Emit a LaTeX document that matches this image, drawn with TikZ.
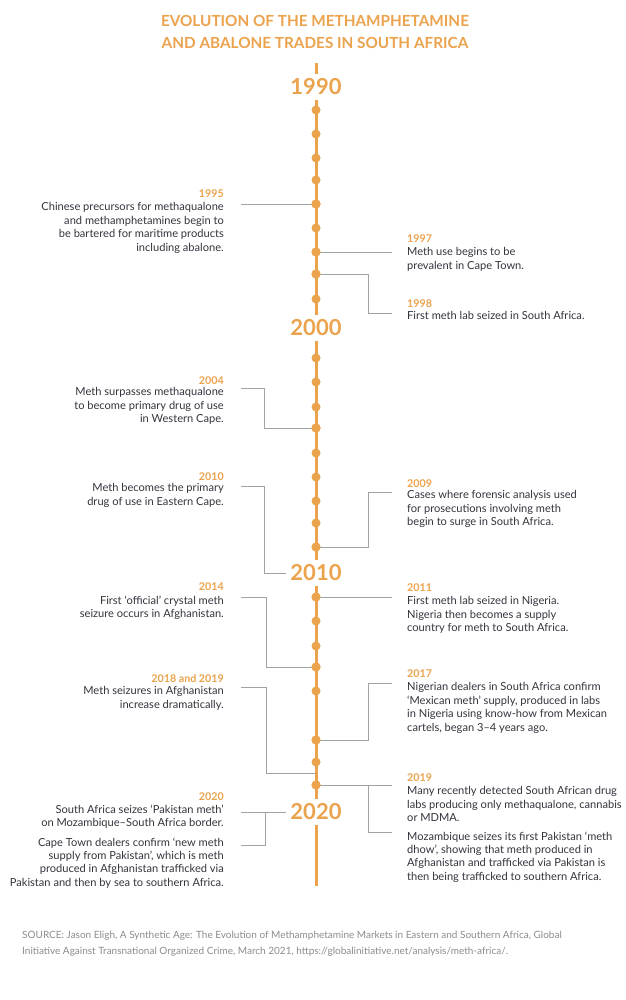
\documentclass[tikz,border=0pt]{standalone}
\usepackage{fontspec}
\setmainfont{Lato}
\definecolor{og}{HTML}{EBA34E}
\definecolor{tx}{HTML}{34343E}
\definecolor{ln}{HTML}{A3A3A3}
\definecolor{src}{HTML}{8C8C8C}
\begin{document}
\begin{tikzpicture}[x=1pt,y=-1pt,
  titlestyle/.style={font=\fontsize{15.3}{22.5}\selectfont\bfseries, text=og, align=center, inner sep=0},
  bigyear/.style={font=\fontsize{22}{24}\selectfont\bfseries, text=og, inner sep=4.5pt},
  yr/.style={font=\fontsize{10.7}{12}\selectfont\bfseries, text=og, inner sep=0},
  lbody/.style={font=\fontsize{11.1}{13.4}\selectfont, text=tx, align=right, inner sep=0, anchor=north east},
  rbody/.style={font=\fontsize{11.1}{13.4}\selectfont, text=tx, align=left, inner sep=0, anchor=north west},
  dotn/.style={circle, fill=og, inner sep=0, minimum size=9pt},
  axis/.style={draw=og, line width=3pt},
  conn/.style={draw=ln, line width=0.9pt},
]
\useasboundingbox (0,0) rectangle (625,1000);
\fill[white] (0,0) rectangle (625,1000);

% title
\node[titlestyle] (title) at (315,32) {EVOLUTION OF THE METHAMPHETAMINE\\AND ABALONE TRADES IN SOUTH AFRICA};

% big years
\node[bigyear] (y1990) at (316,87) {1990};
\node[bigyear] (y2000) at (316,328) {2000};
\node[bigyear] (y2010) at (316,573) {2010};
\node[bigyear] (y2020) at (316,812) {2020};
\coordinate (ttop) at (316,63);
\coordinate (tbot) at (316,886);

% axis
\draw[axis] (ttop) -- (y1990.north);
\draw[axis] (y1990.south) -- (y2000.north);
\draw[axis] (y2000.south) -- (y2010.north);
\draw[axis] (y2010.south) -- (y2020.north);
\draw[axis] (y2020.south) -- (tbot);

% connector end coordinates
\coordinate (e1995) at (241,204);
\coordinate (e1997) at (392,252);
\coordinate (e1998) at (392,313);
\coordinate (e2004) at (241,388);
\coordinate (e2010) at (241,486);
\coordinate (e2009) at (392,492);
\coordinate (e2014) at (241,597);
\coordinate (e2011) at (392,597);
\coordinate (e2018) at (241,687);
\coordinate (a2018) at (316,773);
\coordinate (e2017) at (392,683);
\coordinate (e2019a) at (392,785);
\coordinate (e2019b) at (392,832);
\coordinate (e2020a) at (241,812);
\coordinate (e2020b) at (241,845);

% dots
\foreach \n/\y in {1991/110,1992/134,1993/158,1994/180,1995/204,1996/228,1997/252,1998/274,1999/299,
  2001/358,2002/382,2003/407,2004/428,2005/453,2006/477,2007/501,2008/523,2009/547,
  2011/597,2012/621,2013/646,2014/667,2015/691,2017/740,2018/762,2019/785}
  \node[dotn] (d\n) at (316,\y) {};

% connectors
\draw[conn] (e1995) -- (d1995.center);
\draw[conn] (d1997.center) -- (e1997);
\draw[conn] (e1998) -- ++(-24,0) |- (d1998.center);
\draw[conn] (e2004) -- ++(23,0) |- (d2004.center);
\draw[conn] (e2010) -- ++(23,0) |- (y2010.west);
\draw[conn] (e2009) -- ++(-24,0) |- (d2009.center);
\draw[conn] (e2014) -- ++(25,0) |- (d2014.center);
\draw[conn] (d2011.center) -- (e2011);
\draw[conn] (e2018) -- ++(25,0) |- (a2018);
\draw[conn] (e2017) -- ++(-24,0) |- (d2017.center);
\draw[conn] (d2019.center) -- (e2019a);
\draw[conn] (e2019b) -- ++(-24,0) |- (d2019.center);
\draw[conn] (e2020a) -- (y2020.west);
\draw[conn] (e2020b) -- ++(24,0) |- (y2020.west);

% redraw dots on top
\foreach \n/\y in {1995/204,1997/252,1998/274,2004/428,2009/547,2011/597,2014/667,2017/740,2019/785}
  \fill[og] (d\n.center) circle (4.5pt);

% left texts
\node[yr, anchor=base east] (t1995) at (224,198) {1995};
\node[lbody] (b1995) at (224,202.5) {Chinese precursors for methaqualone\\and methamphetamines begin to\\be bartered for maritime products\\including abalone.};
\node[yr, anchor=base east] (t2004) at (224,384) {2004};
\node[lbody] (b2004) at (224,387.5) {Meth surpasses methaqualone\\to become primary drug of use\\in Western Cape.};
\node[yr, anchor=base east] (t2010) at (224,480) {2010};
\node[lbody] (b2010) at (224,483.5) {Meth becomes the primary\\drug of use in Eastern Cape.};
\node[yr, anchor=base east] (t2014) at (224,590) {2014};
\node[lbody] (b2014) at (224,595.5) {First ‘official’ crystal meth\\seizure occurs in Afghanistan.};
\node[yr, anchor=base east] (t2018) at (224,682) {2018 and 2019};
\node[lbody] (b2018) at (224,686.5) {Meth seizures in Afghanistan\\increase dramatically.};
\node[yr, anchor=base east] (t2020) at (224,800) {2020};
\node[lbody] (b2020a) at (224,804.5) {South Africa seizes ‘Pakistan meth’\\on Mozambique–South Africa border.};
\node[lbody] (b2020b) at (224,837.5) {Cape Town dealers confirm ‘new meth\\supply from Pakistan’, which is meth\\produced in Afghanistan trafficked via\\Pakistan and then by sea to southern Africa.};

% right texts
\node[yr, anchor=base west] (t1997) at (407,243) {1997};
\node[rbody] (b1997) at (407,247.5) {Meth use begins to be\\prevalent in Cape Town.};
\node[yr, anchor=base west] (t1998) at (407,307) {1998};
\node[rbody] (b1998) at (407,311.5) {First meth lab seized in South Africa.};
\node[yr, anchor=base west] (t2009) at (407,487) {2009};
\node[rbody] (b2009) at (407,490.5) {Cases where forensic analysis used\\for prosecutions involving meth\\begin to surge in South Africa.};
\node[yr, anchor=base west] (t2011) at (407,591) {2011};
\node[rbody] (b2011) at (407,596.5) {First meth lab seized in Nigeria.\\Nigeria then becomes a supply\\country for meth to South Africa.};
\node[yr, anchor=base west] (t2017) at (407,677) {2017};
\node[rbody] (b2017) at (407,682.5) {Nigerian dealers in South Africa confirm\\‘Mexican meth’ supply, produced in labs\\in Nigeria using know-how from Mexican\\cartels, began 3–4 years ago.};
\node[yr, anchor=base west] (t2019) at (407,781) {2019};
\node[rbody] (b2019a) at (407,786.5) {Many recently detected South African drug\\labs producing only methaqualone, cannabis\\or MDMA.};
\node[rbody] (b2019b) at (407,831.5) {Mozambique seizes its first Pakistan ‘meth\\dhow’, showing that meth produced in\\Afghanistan and trafficked via Pakistan is\\then being trafficked to southern Africa.};

% source
\node[font=\fontsize{10}{16}\selectfont, text=src, align=left, inner sep=0, anchor=north west] (source) at (22,931) {SOURCE: Jason Eligh, A Synthetic Age: The Evolution of Methamphetamine Markets in Eastern and Southern Africa, Global\\Initiative Against Transnational Organized Crime, March 2021, https://globalinitiative.net/analysis/meth-africa/.};
\end{tikzpicture}
\end{document}
